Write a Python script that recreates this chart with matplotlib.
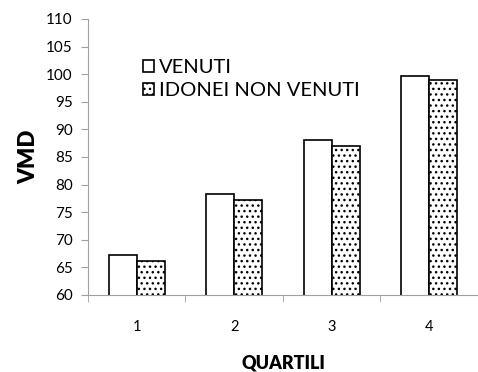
import numpy as np
import matplotlib
matplotlib.use("Agg")
import matplotlib.pyplot as plt

plt.rcParams['font.family'] = ['Lato', 'DejaVu Sans']
plt.rcParams['hatch.linewidth'] = 1.0

# data
quartili = ["1", "2", "3", "4"]
venuti = [67.2, 78.3, 88.0, 99.7]
idonei_non_venuti = [66.2, 77.2, 86.9, 99.0]

fig = plt.figure(figsize=(4.78, 3.72), dpi=100)
ax = fig.add_axes([0.184, 0.207, 0.816, 0.742])

x = np.arange(len(quartili))
w = 0.286
ax.bar(x - w / 2, venuti, w, color="white", edgecolor="black",
       linewidth=1.2, label="VENUTI")
ax.bar(x + w / 2, idonei_non_venuti, w, color="white", edgecolor="black",
       linewidth=1.2, hatch="...", label="IDONEI NON VENUTI")

ax.set_ylim(60, 110)
ax.set_yticks(range(60, 111, 5))
ax.set_xlim(-0.5, len(quartili) - 0.5)
ax.set_xticks(x)
ax.set_xticklabels(quartili)
ax.set_xticks(np.arange(-0.5, len(quartili)), minor=True)
ax.tick_params(axis="x", which="major", length=0, pad=18, labelsize=10.5)
ax.tick_params(axis="x", which="minor", length=5, color="#a0a0a0", direction="out")
ax.tick_params(axis="y", length=5, color="#a0a0a0", labelsize=11, pad=6)

for s in ["top", "right"]:
    ax.spines[s].set_visible(False)
for s in ["left", "bottom"]:
    ax.spines[s].set_color("#a0a0a0")

ax.set_ylabel("VMD", fontsize=16, fontweight="heavy", labelpad=5)
ax.set_xlabel("QUARTILI", fontsize=13, fontweight="heavy", va="center")
ax.xaxis.set_label_coords(0.5, -0.245)

ax.legend(loc="upper left", bbox_to_anchor=(0.12, 0.885), frameon=False,
          fontsize=14.5, handlelength=0.55, handleheight=0.55, handletextpad=0.25,
          labelspacing=0.3, borderaxespad=0)

fig.savefig("out.png", dpi=100)
